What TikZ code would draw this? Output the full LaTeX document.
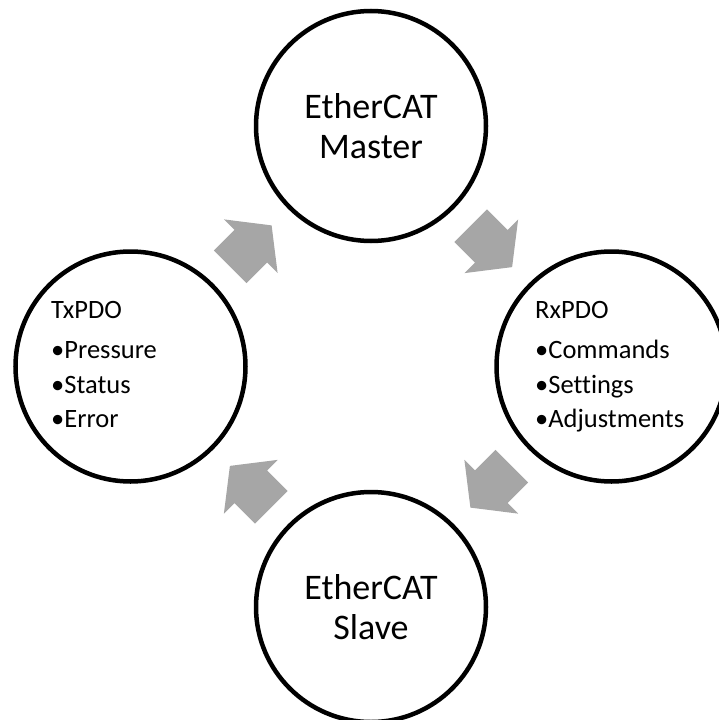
\documentclass[tikz,border=0pt]{standalone}
\usepackage{fontspec}
\setmainfont{Carlito}[Ligatures=NoCommon]
\usetikzlibrary{calc}
\definecolor{arrowgray}{HTML}{A6A6A6}
\begin{document}
\begin{tikzpicture}[x=1pt,y=-1pt,
  ring/.style={circle, draw=black, line width=4.5pt, fill=white, minimum size=230pt, inner sep=0pt, align=center, font=\fontsize{36}{40}\selectfont},
  small/.style={anchor=base west, inner sep=0pt, font=\fontsize{26.5}{31}\selectfont},
  blockarrow/.style={fill=arrowgray}]
\clip (0,0) rectangle (719,720);
\node[ring] (master) at (371,126) {EtherCAT\\Master};
\node[ring] (rxpdo) at (611.5,366.5) {};
\node[ring] (slave) at (371,607) {EtherCAT\\Slave};
\node[ring] (txpdo) at (130.5,366.5) {};
% left texts
\node[small] (txtitle) at (51,318.3) {TxPDO};
\node[small] (tx1) at (51,358.3) {•Pressure};
\node[small] (tx2) at (51,393) {•Status};
\node[small] (tx3) at (51,427) {•Error};
% right texts
\node[small] (rxtitle) at (535,318.3) {RxPDO};
\node[small] (rx1) at (535,358.3) {•Commands};
\node[small] (rx2) at (535,393) {•Settings};
\node[small] (rx3) at (535,427) {•Adjustments};
% block arrows
\begin{scope}[shift={($(master)!0.5!(rxpdo)$)}, rotate=-45]
\fill[blockarrow] (-29,-23) -- (0,-23) -- (0,-38) -- (29.5,0) -- (0,38) -- (0,23) -- (-29,23) -- cycle;
\end{scope}
\begin{scope}[shift={($(rxpdo)!0.5!(slave)$)}, rotate=-135]
\fill[blockarrow] (-29,-23) -- (0,-23) -- (0,-38) -- (29.5,0) -- (0,38) -- (0,23) -- (-29,23) -- cycle;
\end{scope}
\begin{scope}[shift={($(slave)!0.5!(txpdo)$)}, rotate=135]
\fill[blockarrow] (-29,-23) -- (0,-23) -- (0,-38) -- (29.5,0) -- (0,38) -- (0,23) -- (-29,23) -- cycle;
\end{scope}
\begin{scope}[shift={($(txpdo)!0.5!(master)$)}, rotate=45]
\fill[blockarrow] (-29,-23) -- (0,-23) -- (0,-38) -- (29.5,0) -- (0,38) -- (0,23) -- (-29,23) -- cycle;
\end{scope}
\end{tikzpicture}
\end{document}
